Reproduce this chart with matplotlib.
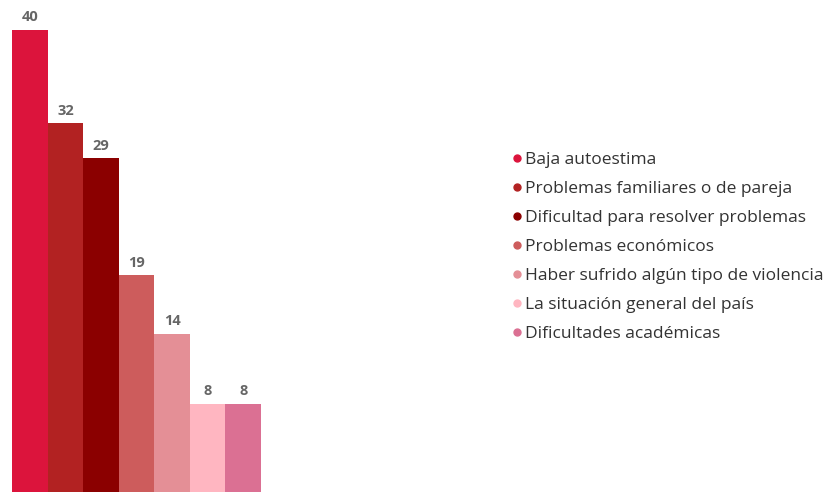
import matplotlib
matplotlib.use('Agg')
import matplotlib.pyplot as plt
from matplotlib.lines import Line2D

categories = ['Baja autoestima', 'Problemas familiares o de pareja',
              'Dificultad para resolver problemas', 'Problemas económicos',
              'Haber sufrido algún tipo de violencia', 'La situación general del país',
              'Dificultades académicas']
values = [40, 32, 29, 19, 14, 8, 8]
colors = ['#DC143C', '#B22222', '#8B0000', '#CD5C5C', '#E48F96', '#FFB6C1', '#DB7093']

plt.rcParams['font.family'] = ['Open Sans', 'DejaVu Sans']

fig = plt.figure(figsize=(8.29, 4.92), dpi=100)
ax = fig.add_axes([12.5 / 829, 0, 248.5 / 829, 1])

x = range(len(values))
ax.bar(x, values, width=1.0, color=colors, linewidth=0)
for xi, v in zip(x, values):
    ax.annotate(str(v), (xi, v), xytext=(0, 4), textcoords='offset points',
                ha='center', va='bottom', fontsize=10.5, fontweight='bold', color='#666666')

ax.set_xlim(-0.5, len(values) - 0.5)
ax.set_ylim(0.43, 42.57)
ax.axis('off')

# legend with round markers
handles = [Line2D([], [], marker='o', linestyle='none', markersize=5,
                  markerfacecolor=c, markeredgecolor=c) for c in colors]
fig.legend(handles, categories, loc='upper left', bbox_to_anchor=(513 / 829, 1 - 152 / 492),
           frameon=False, fontsize=12.5, labelcolor='#333333', handlelength=0.5,
           handletextpad=0.2, labelspacing=0.735, borderpad=0, borderaxespad=0)

fig.savefig('out.png', dpi=100)
